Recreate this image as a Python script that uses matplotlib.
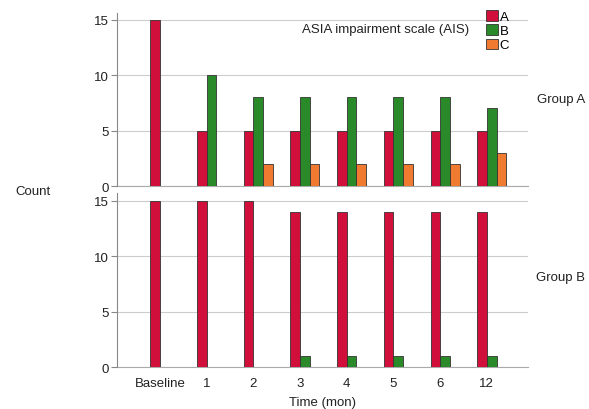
import matplotlib.pyplot as plt
import numpy as np

plt.rcParams['font.family'] = ['Liberation Sans', 'DejaVu Sans']

# time points
times = ['Baseline', '1', '2', '3', '4', '5', '6', '12']

# Group A counts per AIS grade
grpA_blank = [0, 0, 0, 0, 0, 0, 0, 0]
grpA_a = [15, 5, 5, 5, 5, 5, 5, 5]
grpA_b = [0, 10, 8, 8, 8, 8, 8, 7]
grpA_c = [0, 0, 2, 2, 2, 2, 2, 3]

# Group B counts per AIS grade
grpB_blank = [0, 0, 0, 0, 0, 0, 0, 0]
grpB_a = [15, 15, 15, 14, 14, 14, 14, 14]
grpB_b = [0, 0, 0, 1, 1, 1, 1, 1]
grpB_c = [0, 0, 0, 0, 0, 0, 0, 0]

grades = ['A', 'B', 'C']
colors = ['#D0103A', '#2A8A2A', '#F07A30']

fig = plt.figure(figsize=(5.89, 4.10), dpi=100)
ax1 = fig.add_axes([0.1986, 0.5439, 0.6978, 0.4220])
ax2 = fig.add_axes([0.1986, 0.1024, 0.6978, 0.4250])

x = np.arange(len(times))
w = 0.207


def draw(ax, series, ylim_top):
    offs = [-1.5, -0.5, 0.5, 1.5]
    cols = ['#444444'] + colors
    for s, o, c in zip(series, offs, cols):
        ax.bar(x + o * w, s, w, color=c, edgecolor='#333333', linewidth=0.6, zorder=3)
    ax.set_xlim(-0.92, 7.88)
    ax.set_ylim(0, ylim_top)
    ax.set_yticks([0, 5, 10, 15])
    ax.grid(axis='y', color='#cccccc', linewidth=0.8, zorder=0)
    for sp in ['top', 'right']:
        ax.spines[sp].set_visible(False)
    ax.spines['left'].set_color('#888888')
    ax.spines['bottom'].set_color('#aaaaaa')
    ax.spines['bottom'].set_zorder(1)
    ax.tick_params(axis='y', length=4, color='#888888', labelsize=9.5, pad=2, labelcolor='#222222')
    ax.tick_params(axis='x', length=0, labelsize=9.5, labelcolor='#222222', pad=7)


draw(ax1, [grpA_blank, grpA_a, grpA_b, grpA_c], 15.6)
draw(ax2, [grpB_blank, grpB_a, grpB_b, grpB_c], 15.7)
ax1.set_xticks([])
ax2.set_xticks(x)
ax2.set_xticklabels(times)
ax2.set_xlabel('Time (mon)', fontsize=9.5, color='#222222', labelpad=5)

fig.text(0.026, 0.532, 'Count', fontsize=9.5, color='#222222', va='center')
fig.text(0.912, 0.755, 'Group A', fontsize=9.5, color='#222222', va='center')
fig.text(0.910, 0.323, 'Group B', fontsize=9.5, color='#222222', va='center')
fig.text(0.512, 0.926, 'ASIA impairment scale (AIS)', fontsize=9.5, color='#222222', va='center')

handles = [plt.Rectangle((0, 0), 1, 1, facecolor=c, edgecolor='#333333', linewidth=0.6) for c in colors]
fig.legend(handles, grades, loc='upper left', bbox_to_anchor=(0.81, 0.995), frameon=False,
           fontsize=9.5, handlelength=0.85, handleheight=0.85, handletextpad=0.15,
           labelspacing=0.1, borderpad=0.2)

fig.savefig('out.png', dpi=100)
